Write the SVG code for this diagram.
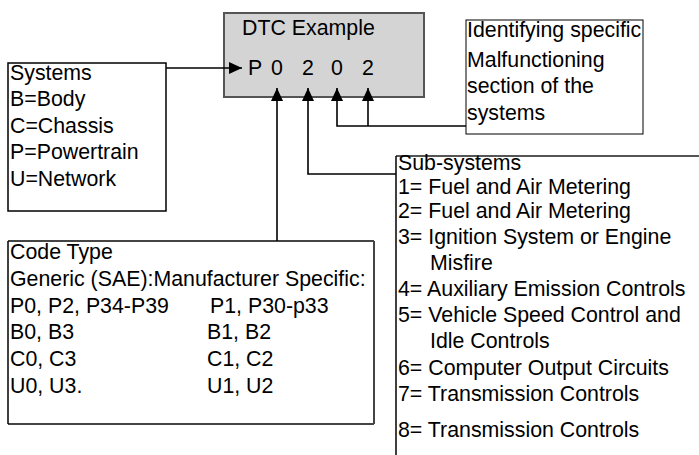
<svg xmlns="http://www.w3.org/2000/svg" width="699" height="455" viewBox="0 0 699 455">
<defs>
<style>
text{font-family:"Liberation Sans",Arial,sans-serif;font-size:21.33px;fill:#000}
.box{fill:#fff;stroke:#000;stroke-width:1.5}
.conn{fill:none;stroke:#000;stroke-width:1.6}
</style>
<marker id="ah" viewBox="0 0 13 12" refX="13" refY="6" markerWidth="13" markerHeight="12" markerUnits="userSpaceOnUse" orient="auto">
<path d="M0,0 L13,6 L0,12 z" fill="#000"/>
</marker>
</defs>
<rect width="699" height="455" fill="#fff"/>
<g id="dtc">
<rect x="224" y="13" width="200" height="84" fill="#d4d4d4" stroke="#555" stroke-width="2"/>
<text x="242" y="35">DTC Example</text>
<text y="75"><tspan x="248">P</tspan><tspan x="271">0</tspan><tspan x="302">2</tspan><tspan x="331">0</tspan><tspan x="362">2</tspan></text>
</g>
<g id="systems">
<rect class="box" x="8" y="63" width="158" height="148"/>
<text x="10" y="80">Systems</text>
<text x="10" y="106">B=Body</text>
<text x="10" y="133">C=Chassis</text>
<text x="10" y="159">P=Powertrain</text>
<text x="10" y="186">U=Network</text>
</g>
<g id="identifying">
<rect x="466" y="20" width="177" height="114" fill="#fff" stroke="#000" stroke-width="1"/>
<text x="467" y="37">Identifying specific</text>
<text x="467" y="67">Malfunctioning</text>
<text x="467" y="93">section of the</text>
<text x="467" y="120">systems</text>
</g>
<g id="codetype">
<path d="M8,241 H374 M8,424 H374 M374,241 V424" fill="none" stroke="#444" stroke-width="2"/>
<path d="M8,241 V424" fill="none" stroke="#000" stroke-width="1.5"/>
<text x="10" y="259">Code Type</text>
<text x="10" y="286">Generic (SAE):Manufacturer Specific:</text>
<text x="10" y="313">P0, P2, P34-P39</text>
<text x="210" y="313">P1, P30-p33</text>
<text x="10" y="339">B0, B3</text>
<text x="207" y="339">B1, B2</text>
<text x="10" y="366">C0, C3</text>
<text x="207" y="366">C1, C2</text>
<text x="10" y="393">U0, U3.</text>
<text x="207" y="393">U1, U2</text>
</g>
<g id="subsystems">
<path d="M396,156 H699" fill="none" stroke="#555" stroke-width="2"/>
<path d="M396,156 V455" fill="none" stroke="#000" stroke-width="1.5"/>
<text x="398" y="170">Sub-systems</text>
<text x="398" y="194">1= Fuel and Air Metering</text>
<text x="398" y="218">2= Fuel and Air Metering</text>
<text x="398" y="244">3= Ignition System or Engine</text>
<text x="430" y="270">Misfire</text>
<text x="398" y="296">4= Auxiliary Emission Controls</text>
<text x="398" y="322">5= Vehicle Speed Control and</text>
<text x="430" y="348">Idle Controls</text>
<text x="398" y="375">6= Computer Output Circuits</text>
<text x="398" y="401">7= Transmission Controls</text>
<text x="398" y="437">8= Transmission Controls</text>
</g>
<g id="connectors">
<path class="conn" d="M166,68 H242" marker-end="url(#ah)"/>
<path class="conn" d="M277,241 V88" marker-end="url(#ah)"/>
<path class="conn" d="M396,174 H308 V88" marker-end="url(#ah)"/>
<path class="conn" d="M466,126 H337 V88" marker-end="url(#ah)"/>
<path class="conn" d="M368,126 V88" marker-end="url(#ah)"/>
</g>
</svg>
